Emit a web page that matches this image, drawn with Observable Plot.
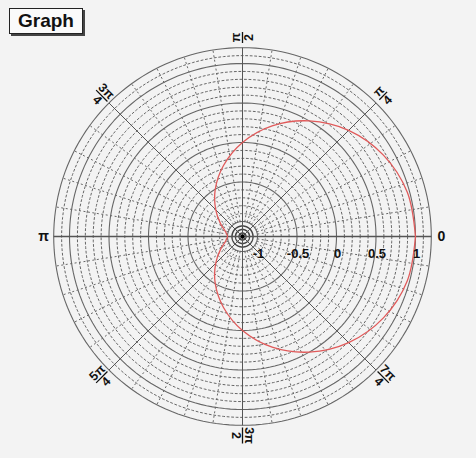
<!DOCTYPE html>
<html><head><meta charset="utf-8">
<script src="https://cdn.jsdelivr.net/npm/d3@7"></script>
<script src="https://cdn.jsdelivr.net/npm/@observablehq/plot@0.6"></script>
<style>
body{margin:0;background:#f3f3f3;font-family:"Liberation Sans",Arial,sans-serif;}
#wrap{position:relative;width:476px;height:458px;}
#title{position:absolute;left:9px;top:8px;width:72px;height:24px;border:1px solid #222;background:#fafafa;
 box-shadow:2px 2px 0 #444;font-weight:bold;font-size:19px;line-height:24px;text-align:center;color:#111;}
</style></head><body>
<div id="wrap"><div id="title">Graph</div></div>
<script>
// Radial axis
const radialTicks = [-1, -0.5, 0, 0.5, 1];
const radialTickLabels = ["-1", "-0.5", "0", "0.5", "1"];
const radialMin = -1, radialOuter = 1.2, radialMinor = 0.1;
// Polar axis labels
const angleDegs = [0, 45, 90, 135, 180, 225, 270, 315];
const angleNum = ["0", "π", "π", "3π", "π", "5π", "3π", "7π"];
const angleDen = ["", "4", "2", "4", "", "4", "2", "4"];
const angleMinorStep = 9;
// Curve (angle in degrees, radius value)
const curveDeg = [0,15,30,45,60,75,90,105,120,135,150,165,180,195,210,225,240,255,270,285,300,315,330,345,360];
const curveVal = [1.00,0.97,0.87,0.71,0.50,0.26,0.00,-0.26,-0.50,-0.71,-0.87,-0.97,-1.00,-0.97,-0.87,-0.71,-0.50,-0.26,0.00,0.26,0.50,0.71,0.87,0.97,1.00];

// geometry: 1 unit = 79 px; radial value v -> radius unit (offset of 15px at v=-1)
const PX = 1/79;
const rr = v => 15*PX + (v - radialMin);
const pt = (r, deg) => ({x: r*Math.cos(deg*Math.PI/180), y: r*Math.sin(deg*Math.PI/180)});

function circle(r, id){ const a=[]; for(let d=0; d<=360; d+=2) a.push({...pt(r,d), id}); return a; }

const solidVals = radialTicks.concat([radialOuter]);
const minorVals = [];
for (let k = 1; k <= 21; k++) { const v = +(radialMin + k*radialMinor).toFixed(2); if (!solidVals.some(s => Math.abs(s - v) < 1e-6)) minorVals.push(v); }

const solidCircles = solidVals.flatMap((v,i) => circle(rr(v), i));
const minorCircles = minorVals.flatMap((v,i) => circle(rr(v), i));
const innerRings = [3.5, 7, 10.5].flatMap((p,i) => circle(p*PX, i));

const spokeMajor = [];
for (const d of [45,90,135,225,270,315]) spokeMajor.push({x1:0,y1:0,x2:pt(rr(radialOuter),d).x,y2:pt(rr(radialOuter),d).y});
const spokeMinor = [];
for (let d = 0; d < 360; d += angleMinorStep) if (d % 45 !== 0) {
  const a = pt(rr(radialMin), d), b = pt(rr(radialOuter), d);
  spokeMinor.push({x1:a.x,y1:a.y,x2:b.x,y2:b.y});
}
const axisLine = [{x1: pt(rr(radialOuter),180).x, y1:0, x2: pt(rr(radialOuter),0).x, y2:0}];

const curve = curveDeg.map((d,i) => pt(rr(curveVal[i]), d));

function rot(d){ let a = -d; while (a <= -180) a += 360; while (a > 180) a -= 360; if (a > 90 || a < -90) a += (a > 0 ? -180 : 180); return a; }
const labR = 199*PX;
const angLabels = angleDegs.map((d,i) => ({...pt(labR,d), text: angleDen[i] ? angleNum[i] + "\n" + angleDen[i] : angleNum[i], rotate: rot(d), frac: !!angleDen[i], deg: d, num: angleNum[i]}));
const fracBars = angLabels.filter(l => l.frac).map(l => {
  const w = (l.num.length > 1 ? 8 : 5.5)*PX;
  const a = pt(labR - w, l.deg), b = pt(labR + w, l.deg);
  return {x1:a.x,y1:a.y,x2:b.x,y2:b.y};
});
const radLabels = radialTicks.map((v,i) => ({x: rr(v) + 1*PX, y: 0, text: radialTickLabels[i]}));

const plot = Plot.plot({
  width: 476, height: 458, margin: 0,
  style: {background: "transparent", fontFamily: "'Liberation Sans', Arial, sans-serif"},
  x: {domain: [-242*PX, 234*PX], range: [0, 476], axis: null},
  y: {domain: [-222*PX, 236*PX], range: [458, 0], axis: null},
  marks: [
    Plot.line(minorCircles, {x:"x", y:"y", z:"id", stroke:"#666", strokeWidth:1, strokeDasharray:"2,2.5"}),
    Plot.link(spokeMinor, {x1:"x1", y1:"y1", x2:"x2", y2:"y2", stroke:"#666", strokeWidth:1, strokeDasharray:"2,2.5"}),
    Plot.line(solidCircles, {x:"x", y:"y", z:"id", stroke:"#666", strokeWidth:1.1}),
    Plot.line(innerRings, {x:"x", y:"y", z:"id", stroke:"#444", strokeWidth:1.5}),
    Plot.link(spokeMajor, {x1:"x1", y1:"y1", x2:"x2", y2:"y2", stroke:"#555", strokeWidth:1}),
    Plot.link(axisLine, {x1:"x1", y1:"y1", x2:"x2", y2:"y2", stroke:"#555", strokeWidth:1.4}),
    Plot.dot([{x:0,y:0}], {x:"x", y:"y", symbol:"square", r:2.2, fill:"#000", stroke:"none"}),
    Plot.line(curve, {x:"x", y:"y", curve:"catmull-rom", stroke:"#e05a5a", strokeWidth:1.3}),
    Plot.text(radLabels, {x:"x", y:"y", text:"text", dy:17, fontSize:13, fontWeight:"bold", fill:"#111"}),
    Plot.text(angLabels.filter(l => l.frac), {x:"x", y:"y", text:"text", rotate:"rotate", fontSize:12.5, fontWeight:"bold", lineHeight:1.0, fill:"#111"}),
    Plot.link(fracBars, {x1:"x1", y1:"y1", x2:"x2", y2:"y2", stroke:"#111", strokeWidth:1.3}),
    Plot.text(angLabels.filter(l => !l.frac), {x:"x", y:"y", text:"text", fontSize:14, fontWeight:"bold", fill:"#111"})
  ]
});
document.getElementById("wrap").appendChild(plot);
</script>
</body></html>
